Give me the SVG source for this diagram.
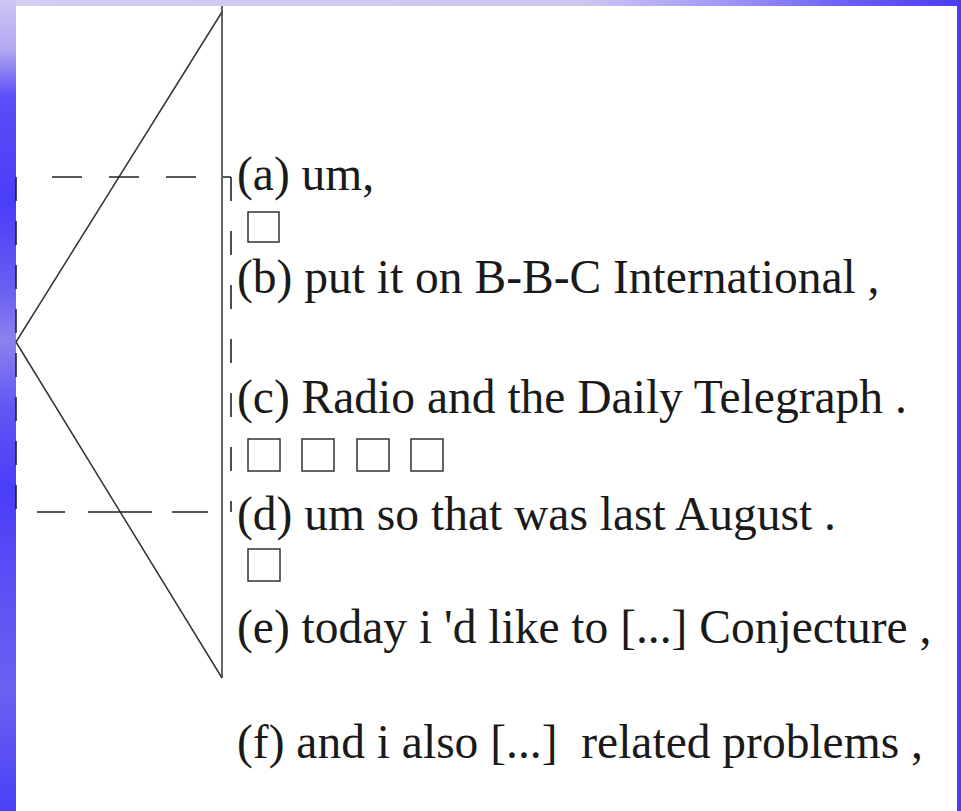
<svg xmlns="http://www.w3.org/2000/svg" width="961" height="811" viewBox="0 0 961 811">
  <defs>
    <linearGradient id="gLeft" x1="0" y1="0" x2="0" y2="1">
      <stop offset="0" stop-color="#cbc5f2"/>
      <stop offset="0.06" stop-color="#b3aaf3"/>
      <stop offset="0.12" stop-color="#5a4ef6"/>
      <stop offset="0.25" stop-color="#4a3df8"/>
      <stop offset="0.36" stop-color="#6a60f2"/>
      <stop offset="0.42" stop-color="#8a82ee"/>
      <stop offset="0.5" stop-color="#6258f3"/>
      <stop offset="0.6" stop-color="#4a3df8"/>
      <stop offset="0.72" stop-color="#5a50f4"/>
      <stop offset="0.85" stop-color="#6a62f2"/>
      <stop offset="1" stop-color="#4b40f7"/>
    </linearGradient>
    <linearGradient id="gTop" x1="0" y1="0" x2="1" y2="0">
      <stop offset="0" stop-color="#d2cdf3"/>
      <stop offset="0.6" stop-color="#cdc6f3"/>
      <stop offset="0.75" stop-color="#a198f5"/>
      <stop offset="0.88" stop-color="#6a5ff7"/>
      <stop offset="1" stop-color="#4a3cf8"/>
    </linearGradient>
    <style>
      .ln { stroke: #333; stroke-width: 1.5; fill: none; }
      .dash { stroke: #222; stroke-width: 1.6; fill: none; stroke-dasharray: 30 27; }
      .dashv { stroke: #222; stroke-width: 1.6; fill: none; stroke-dasharray: 24 20; }
      .box { stroke: #333; stroke-width: 1.5; fill: #fff; }
      .t { font-family: "Liberation Serif", "Times New Roman", serif; font-size: 47.5px; fill: #1a1a1a; white-space: pre; }
    </style>
  </defs>

  <g id="background">
    <rect x="0" y="0" width="961" height="811" fill="#ffffff"/>
    <rect x="0" y="0" width="16" height="811" fill="url(#gLeft)"/>
    <rect x="16" y="0" width="945" height="6" fill="url(#gTop)"/>
    <rect x="0" y="0" width="16" height="6" fill="#cbc5f2"/>
    <rect x="957" y="0" width="4" height="811" fill="#4a3cf8"/>
  </g>

  <g id="connectors">
    <line class="ln" x1="222" y1="6" x2="222" y2="678"/>
    <line class="ln" x1="222" y1="12" x2="16" y2="342"/>
    <line class="ln" x1="16" y1="342" x2="222" y2="678"/>
    <line class="dash" x1="52" y1="177" x2="231" y2="177"/>
    <line class="dash" x1="37" y1="512" x2="231" y2="512" style="stroke-dasharray: 28 23 64 20 36 100"/>
    <line class="dashv" x1="16" y1="177" x2="16" y2="512"/>
    <line class="dashv" x1="231" y1="177" x2="231" y2="512" style="stroke-dasharray: 24 30"/>
  </g>

  <g id="node-a"><text class="t" x="237" y="190">(a) um,</text></g>
  <g id="pause-a"><rect class="box" x="248" y="212" width="31" height="30"/></g>
  <g id="node-b"><text class="t" x="237" y="293">(b) put it on B-B-C International ,</text></g>
  <g id="node-c"><text class="t" x="237" y="413">(c) Radio and the Daily Telegraph .</text></g>
  <g id="pause-c">
    <rect class="box" x="248" y="439" width="32" height="32"/>
    <rect class="box" x="302" y="439" width="32" height="32"/>
    <rect class="box" x="357" y="439" width="32" height="32"/>
    <rect class="box" x="411" y="439" width="32" height="32"/>
  </g>
  <g id="node-d"><text class="t" x="237" y="530">(d) um so that was last August .</text></g>
  <g id="pause-d"><rect class="box" x="248" y="549" width="32" height="32"/></g>
  <g id="node-e"><text class="t" x="237" y="643">(e) today i 'd like to [...] Conjecture ,</text></g>
  <g id="node-f"><text class="t" x="237" y="758">(f) and i also [...]  related problems ,</text></g>
</svg>
